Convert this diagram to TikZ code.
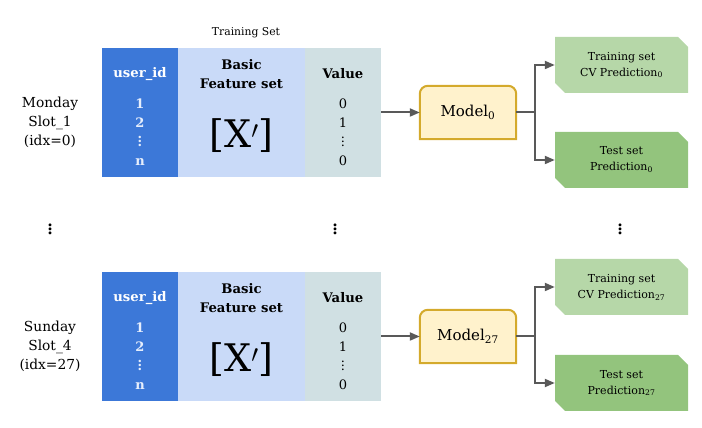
\documentclass[tikz,border=0pt]{standalone}
\usepackage{fontspec}
\setmainfont{DejaVu Serif}
\usetikzlibrary{arrows.meta,shapes.misc,backgrounds}

\definecolor{IdBlue}{HTML}{3C78D8}
\definecolor{IdText}{HTML}{E6EEFC}
\definecolor{FeatBlue}{HTML}{C9DAF8}
\definecolor{ValGray}{HTML}{D0E0E3}
\definecolor{ModelFill}{HTML}{FFF2CC}
\definecolor{ModelLine}{HTML}{D4AA2C}
\definecolor{TrainGreen}{HTML}{B6D7A8}
\definecolor{TestGreen}{HTML}{93C47D}
\definecolor{ArrowGray}{HTML}{595959}

\begin{document}
\begin{tikzpicture}[x=1pt,y=1pt]
  \useasboundingbox (0,0) rectangle (702,428);
  \tikzset{ColumnStyle/.style = {
    shape         = rectangle,
    draw          = none,
    inner sep     = 0pt,
    outer sep     = 0pt,
    minimum height = 129pt
    }
  }
  \tikzset{HeadStyle/.style = {
    align         = center,
    inner sep     = 0pt,
    font          = \bfseries\fontsize{13.2}{19}\selectfont
    }
  }
  \tikzset{RowStyle/.style = {
    align         = center,
    inner sep     = 0pt,
    font          = \fontsize{13}{19}\selectfont
    }
  }
  \tikzset{LabelStyle/.style = {
    align         = center,
    inner sep     = 0pt,
    font          = \fontsize{13.8}{19}\selectfont
    }
  }
  \tikzset{ModelStyle/.style = {
    shape         = rectangle,
    draw          = none,
    minimum width = 96pt,
    minimum height = 53pt,
    inner sep     = 0pt,
    font          = \fontsize{15}{17}\selectfont
    }
  }
  \tikzset{ModelShapeStyle/.style = {
    draw          = ModelLine,
    fill          = ModelFill,
    line width    = 2pt
    }
  }
  \tikzset{PredStyle/.style = {
    chamfered rectangle,
    chamfered rectangle corners = {north east, south west},
    chamfered rectangle xsep = 5pt,
    chamfered rectangle ysep = 5pt,
    draw          = none,
    minimum width = 133pt,
    minimum height = 56pt,
    inner sep     = 0pt,
    align         = center,
    font          = \fontsize{11}{16}\selectfont
    }
  }
  \tikzset{ArrowStyle/.style = {
    draw          = ArrowGray,
    line width    = 2pt,
    -{Triangle[length=10pt,width=8pt]}
    }
  }
  \tikzset{DotsStyle/.style = {
    inner sep     = 0pt,
    font          = \fontsize{22}{22}\selectfont
    }
  }

	% first slot
	\node[LabelStyle](L1) at (50, 306) {Monday\\Slot\_1\\(idx=0)};
	\node[font=\fontsize{10.8}{12}\selectfont](S1) at (246, 395) {Training Set};
	\node[ColumnStyle, fill=IdBlue, minimum width=76pt](U1) at (140, 315.5) {};
	\node[ColumnStyle, fill=FeatBlue, minimum width=127pt](F1) at (241.5, 315.5) {};
	\node[ColumnStyle, fill=ValGray, minimum width=76pt](V1) at (343, 315.5) {};
	\node[HeadStyle, text=white](UH1) at (140, 354) {user\_id};
	\node[HeadStyle](FH1) at (241.5, 353.5) {Basic\\Feature set};
	\node[HeadStyle](VH1) at (343, 354) {Value};
	\node[RowStyle, text=IdText, font=\bfseries\fontsize{13}{19}\selectfont](UR1) at (140, 296) {1\\2\\$\vdots$\\n};
	\node[RowStyle, font=\fontsize{38}{40}\selectfont](X1) at (241.5, 292) {[X$^{\prime}$]};
	\node[RowStyle](VR1) at (343, 296) {0\\1\\$\vdots$\\0};
	\node[ModelStyle](M1) at (468, 315.5) {Model\textsubscript{0}};
	\coordinate (J1) at (535, 315.5);
	\node[PredStyle, fill=TrainGreen](P1) at (621.5, 363) {Training set\\CV Prediction\textsubscript{0}};
	\node[PredStyle, fill=TestGreen](Q1) at (621.5, 268) {Test set\\Prediction\textsubscript{0}};
	\begin{scope}[on background layer]
	\draw[ModelShapeStyle] (M1.south west) -- ([yshift=-8pt]M1.north west)
	  arc[start angle=180, end angle=90, radius=8pt] -- ([xshift=-8pt]M1.north east)
	  arc[start angle=90, end angle=0, radius=8pt] -- (M1.south east) -- cycle;
	\end{scope}
	\draw[ArrowStyle](V1.east) to (M1.west);
	\draw[ArrowStyle](M1.east) -- (J1) |- (P1.west);
	\draw[ArrowStyle](J1) |- (Q1.west);

	% dots
	\node[DotsStyle](D1) at (50, 202) {$\vdots$};
	\node[DotsStyle](D2) at (335, 202) {$\vdots$};
	\node[DotsStyle](D3) at (620, 202) {$\vdots$};

	% last slot
	\node[LabelStyle](L2) at (50, 82) {Sunday\\Slot\_4\\(idx=27)};
	\node[ColumnStyle, fill=IdBlue, minimum width=76pt](U2) at (140, 91.5) {};
	\node[ColumnStyle, fill=FeatBlue, minimum width=127pt](F2) at (241.5, 91.5) {};
	\node[ColumnStyle, fill=ValGray, minimum width=76pt](V2) at (343, 91.5) {};
	\node[HeadStyle, text=white](UH2) at (140, 130) {user\_id};
	\node[HeadStyle](FH2) at (241.5, 129.5) {Basic\\Feature set};
	\node[HeadStyle](VH2) at (343, 130) {Value};
	\node[RowStyle, text=IdText, font=\bfseries\fontsize{13}{19}\selectfont](UR2) at (140, 72) {1\\2\\$\vdots$\\n};
	\node[RowStyle, font=\fontsize{38}{40}\selectfont](X2) at (241.5, 68) {[X$^{\prime}$]};
	\node[RowStyle](VR2) at (343, 72) {0\\1\\$\vdots$\\0};
	\node[ModelStyle](M2) at (468, 91.5) {Model\textsubscript{27}};
	\coordinate (J2) at (535, 91.5);
	\node[PredStyle, fill=TrainGreen](P2) at (621.5, 141) {Training set\\CV Prediction\textsubscript{27}};
	\node[PredStyle, fill=TestGreen](Q2) at (621.5, 45) {Test set\\Prediction\textsubscript{27}};
	\begin{scope}[on background layer]
	\draw[ModelShapeStyle] (M2.south west) -- ([yshift=-8pt]M2.north west)
	  arc[start angle=180, end angle=90, radius=8pt] -- ([xshift=-8pt]M2.north east)
	  arc[start angle=90, end angle=0, radius=8pt] -- (M2.south east) -- cycle;
	\end{scope}
	\draw[ArrowStyle](V2.east) to (M2.west);
	\draw[ArrowStyle](M2.east) -- (J2) |- (P2.west);
	\draw[ArrowStyle](J2) |- (Q2.west);

  \end{tikzpicture}
\end{document}
